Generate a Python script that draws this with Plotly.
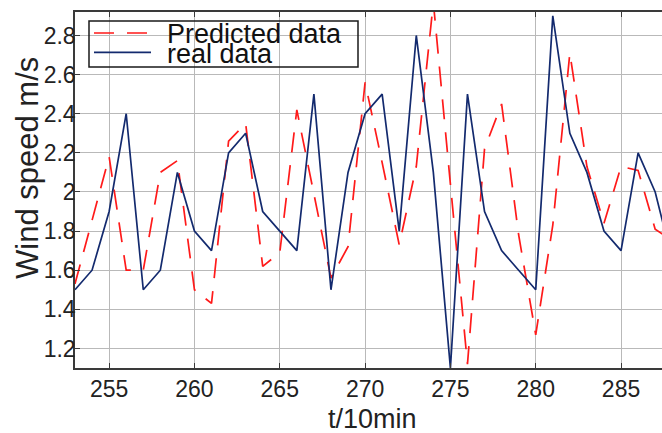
import plotly.graph_objects as go

# time index (t / 10 min)
t_steps = list(range(253, 289))

# measured wind speed, m/s
real_speed = [1.50, 1.60, 1.90, 2.40, 1.50, 1.60, 2.10, 1.80, 1.70, 2.20,
              2.30, 1.90, 1.80, 1.70, 2.50, 1.50, 2.10, 2.40, 2.50, 1.80,
              2.80, 2.10, 1.10, 2.50, 1.90, 1.70, 1.60, 1.50, 2.90, 2.30,
              2.10, 1.80, 1.70, 2.20, 2.00, 1.65]

# model output, m/s
pred_speed = [1.53, 1.86, 2.18, 1.60, 1.60, 2.10, 2.16, 1.50, 1.43, 2.26,
              2.35, 1.62, 1.69, 2.42, 1.99, 1.56, 1.72, 2.56, 2.15, 1.73,
              2.13, 2.97, 2.04, 1.12, 2.22, 2.45, 1.78, 1.27, 1.83, 2.71,
              2.13, 1.84, 2.13, 2.11, 1.81, 1.75]

x_ticks = [255, 260, 265, 270, 275, 280, 285]
y_ticks = [1.2, 1.4, 1.6, 1.8, 2.0, 2.2, 2.4, 2.6, 2.8]
y_tick_text = ["1.2", "1.4", "1.6", "1.8", "2", "2.2", "2.4", "2.6", "2.8"]

legend_labels = ["Predicted data", "real data"]

RED = "#ff1a1a"
NAVY = "#132a6e"
FONT = "Liberation Sans, Arial, sans-serif"
W, H = 662, 433
ML, MR, MT, MB = 75, 0, 12, 65


def px_x(v):
    return (v - ML) / (W - ML - MR)


def px_y(v):
    return (H - MB - v) / (H - MT - MB)


fig = go.Figure()
fig.add_trace(go.Scatter(x=t_steps, y=pred_speed, mode="lines",
                         line=dict(color=RED, width=1.7, dash="20px,13px"),
                         showlegend=False))
fig.add_trace(go.Scatter(x=t_steps, y=real_speed, mode="lines",
                         line=dict(color=NAVY, width=1.7),
                         showlegend=False))

axis_common = dict(showgrid=True, gridcolor="#b9b9b9", gridwidth=1,
                   showline=True, linecolor="#3a3a3a", linewidth=1.5,
                   ticks="inside", ticklen=5, tickwidth=1, tickcolor="#3a3a3a",
                   tickfont=dict(family=FONT, size=23, color="#222222"),
                   zeroline=False)

fig.update_xaxes(range=[253, 287.4], tickvals=x_ticks, mirror="ticks",
                 **axis_common)
fig.update_yaxes(range=[1.10, 2.92], tickvals=y_ticks, ticktext=y_tick_text,
                 mirror=False, ticklabelstandoff=-7, **axis_common)

# framed legend drawn on the plot area
shapes = [
    dict(type="rect", xref="paper", yref="paper",
         x0=px_x(89), x1=px_x(358), y0=px_y(67), y1=px_y(21),
         line=dict(color="#1a1a1a", width=1.5), fillcolor="rgba(0,0,0,0)"),
    dict(type="line", xref="paper", yref="paper",
         x0=px_x(94), x1=px_x(151), y0=px_y(33), y1=px_y(33),
         line=dict(color=RED, width=1.7, dash="20px,13px")),
    dict(type="line", xref="paper", yref="paper",
         x0=px_x(94), x1=px_x(151), y0=px_y(52.3), y1=px_y(52.3),
         line=dict(color=NAVY, width=1.7)),
]

annotations = [
    dict(text=legend_labels[0], xref="paper", yref="paper",
         x=px_x(165), y=px_y(34.5), xanchor="left", yanchor="middle",
         showarrow=False, font=dict(family=FONT, size=27, color="#111111")),
    dict(text=legend_labels[1], xref="paper", yref="paper",
         x=px_x(165), y=px_y(54.5), xanchor="left", yanchor="middle",
         showarrow=False, font=dict(family=FONT, size=27, color="#111111")),
    dict(text="Wind speed m/s", xref="paper", yref="paper",
         x=px_x(27), y=px_y(168), xanchor="center", yanchor="middle",
         textangle=-90, showarrow=False,
         font=dict(family=FONT, size=31, color="#222222")),
    dict(text="t/10min", xref="paper", yref="paper",
         x=px_x(373), y=px_y(419), xanchor="center", yanchor="middle",
         showarrow=False, font=dict(family=FONT, size=27, color="#222222")),
]

fig.update_layout(width=W, height=H,
                  margin=dict(l=ML, r=MR, t=MT, b=MB, pad=0),
                  paper_bgcolor="white", plot_bgcolor="white",
                  font=dict(family=FONT),
                  shapes=shapes, annotations=annotations)

fig.write_html("out.html")
